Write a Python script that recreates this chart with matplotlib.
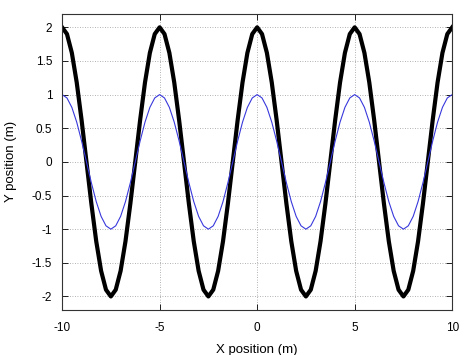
import numpy as np
import matplotlib
matplotlib.use("Agg")
import matplotlib.pyplot as plt

plt.rcParams['font.family'] = ['Liberation Sans', 'DejaVu Sans']

period_x = [0.0, 0.25, 0.5, 0.75, 1.0, 1.25, 1.5, 1.75, 2.0, 2.25,
            2.5, 2.75, 3.0, 3.25, 3.5, 3.75, 4.0, 4.25, 4.5, 4.75]
big_wave = [2.0, 1.9, 1.62, 1.18, 0.62, 0.0, -0.62, -1.18, -1.62, -1.9,
            -2.0, -1.9, -1.62, -1.18, -0.62, 0.0, 0.62, 1.18, 1.62, 1.9]
small_wave = [1.0, 0.95, 0.81, 0.59, 0.31, 0.0, -0.31, -0.59, -0.81, -0.95,
              -1.0, -0.95, -0.81, -0.59, -0.31, 0.0, 0.31, 0.59, 0.81, 0.95]
period_starts = [-10, -5, 0, 5]

xticks = [-10, -5, 0, 5, 10]
yticks = [-2, -1.5, -1, -0.5, 0, 0.5, 1, 1.5, 2]

# lay the periods end to end, closing with the value at x = 10
x = [s + px for s in period_starts for px in period_x] + [10.0]
y_big = big_wave * len(period_starts) + [big_wave[0]]
y_small = small_wave * len(period_starts) + [small_wave[0]]

fig = plt.figure(figsize=(4.74, 3.55), dpi=100)
ax = fig.add_axes([0.131, 0.127, 0.823, 0.834])

ax.plot(x, y_big, color='black', lw=3.0, solid_joinstyle='round')
ax.plot(x, y_small, color='#3838dc', lw=0.8)

ax.set_xlim(-10, 10)
ax.set_ylim(-2.2, 2.2)
ax.set_xticks(xticks)
ax.set_xticklabels([str(t) for t in xticks])
ax.set_yticks(yticks)
ax.set_yticklabels(['-2', '-1.5', '-1', '-0.5', '0', '0.5', '1', '1.5', '2'])
ax.tick_params(direction='in', length=4, width=0.6, labelsize=8.5,
               top=True, right=True)
ax.tick_params(axis='x', pad=9)
ax.tick_params(axis='y', pad=7)
ax.grid(True, color='#999999', linestyle=(0, (1, 2)), lw=0.6)
for sp in ax.spines.values():
    sp.set_linewidth(0.8)
    sp.set_color('#333333')

ax.set_xlabel('X position (m)', fontsize=9.5, labelpad=7)
ax.set_ylabel('Y position (m)', fontsize=9.5, labelpad=11)

fig.savefig('out.png', dpi=100)
